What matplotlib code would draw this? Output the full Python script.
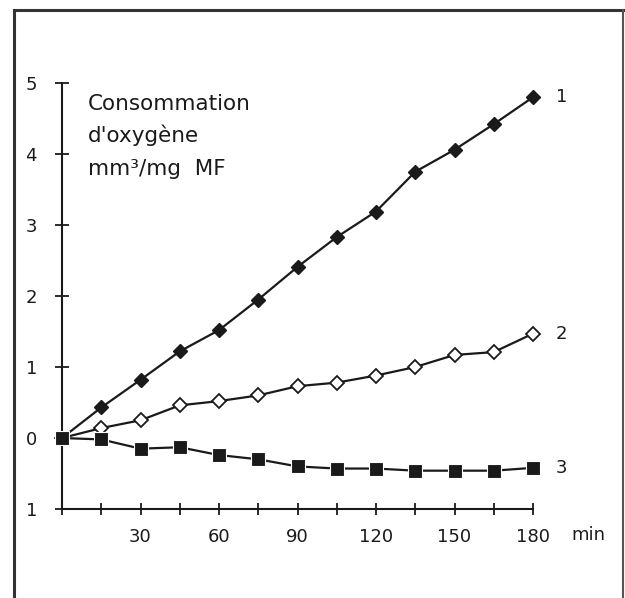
import matplotlib.pyplot as plt
from matplotlib.lines import Line2D

# temps (min) et consommation d'oxygène (mm3/mg MF)
temps = [0, 15, 30, 45, 60, 75, 90, 105, 120, 135, 150, 165, 180]
serie1 = [0, 0.43, 0.82, 1.22, 1.52, 1.95, 2.41, 2.83, 3.19, 3.75, 4.06, 4.42, 4.80]
serie2 = [0, 0.14, 0.25, 0.46, 0.52, 0.60, 0.73, 0.78, 0.88, 1.00, 1.17, 1.21, 1.47]
serie3 = [0, -0.02, -0.15, -0.13, -0.24, -0.30, -0.40, -0.43, -0.43, -0.46, -0.46, -0.46, -0.42]
noms = ["1", "2", "3"]

yticks = [-1, 0, 1, 2, 3, 4, 5]
ylabels = ["1", "0", "1", "2", "3", "4", "5"]
xticks = temps
xlabels = [str(t) if (t % 30 == 0 and t > 0) else "" for t in temps]

ink = "#1a1a1a"
plt.rcParams['font.family'] = ['DejaVu Sans']

fig = plt.figure(figsize=(6.25, 5.98), dpi=100)

# cadre autour de la figure (ouvert en bas)
fig.add_artist(Line2D([0.0224, 0.0224], [0.0, 0.983], transform=fig.transFigure, color="#333", lw=2.2))
fig.add_artist(Line2D([0.0224, 0.9968], [0.983, 0.983], transform=fig.transFigure, color="#333", lw=2.2))
fig.add_artist(Line2D([0.9968, 0.9968], [0.0, 0.983], transform=fig.transFigure, color="#555", lw=1.5))

ax = fig.add_axes([0.0992, 0.1488, 0.7536, 0.7124])
ax.set_xlim(0, 180)
ax.set_ylim(-1, 5)

ax.plot(temps, serie2, "-", color=ink, lw=1.6, marker="D", ms=7,
        mfc="white", mec=ink, mew=1.3, clip_on=False, zorder=3)
ax.plot(temps, serie1, "-", color=ink, lw=1.6, marker="D", ms=7,
        mfc=ink, mec=ink, clip_on=False, zorder=4)
ax.plot(temps, serie3, "-", color=ink, lw=1.6, marker="s", ms=9.5,
        mfc=ink, mec="white", mew=0.8, clip_on=False, zorder=5)

for nom, s in zip(noms, [serie1, serie2, serie3]):
    ax.text(temps[-1] + 11, s[-1], nom, fontsize=13, color=ink,
            ha="center", va="center", clip_on=False)

for spine in ["top", "right"]:
    ax.spines[spine].set_visible(False)
ax.spines["left"].set_linewidth(1.5)
ax.spines["bottom"].set_linewidth(1.5)
ax.spines["left"].set_color(ink)
ax.spines["bottom"].set_color(ink)

ax.set_yticks(yticks)
ax.set_yticklabels(ylabels)
ax.set_xticks(xticks)
ax.set_xticklabels(xlabels)
ax.tick_params(axis="y", direction="inout", length=10, width=1.3, pad=13,
               labelsize=13, colors=ink)
ax.tick_params(axis="x", direction="inout", length=8, width=1.3, pad=10,
               labelsize=13, colors=ink)

ax.text(201, -1.37, "min", fontsize=13, color=ink, ha="center", va="center", clip_on=False)

ax.text(10, 4.71, "Consommation", fontsize=15.5, color=ink, va="center")
ax.text(10, 4.26, "d'oxygène", fontsize=15.5, color=ink, va="center")
ax.text(10, 3.79, "mm³/mg  MF", fontsize=15.5, color=ink, va="center")

plt.savefig("out.png", dpi=100)
